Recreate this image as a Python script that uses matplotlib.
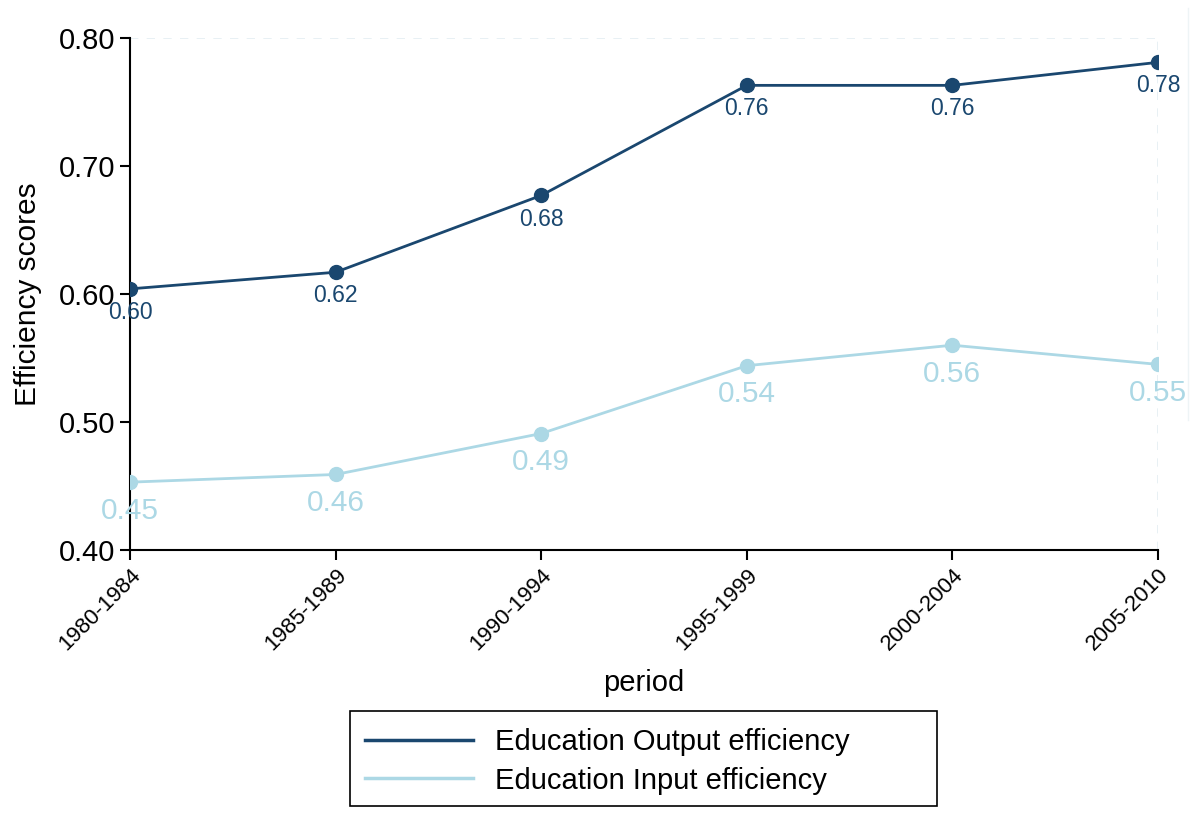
import matplotlib
matplotlib.use("Agg")
import matplotlib.pyplot as plt
from matplotlib.lines import Line2D
from matplotlib.patches import Rectangle

plt.rcParams['font.family'] = ['Liberation Sans', 'DejaVu Sans']

# data
periods = ["1980-1984", "1985-1989", "1990-1994", "1995-1999", "2000-2004", "2005-2010"]
output_eff = [0.604, 0.617, 0.677, 0.763, 0.763, 0.781]
input_eff = [0.453, 0.459, 0.491, 0.544, 0.560, 0.545]

navy = "#1a476f"
light = "#acd8e5"

W, H = 1196, 840
fig = plt.figure(figsize=(W / 100, H / 100), dpi=100)
ax = fig.add_axes([130 / W, 1 - 550 / H, 1028 / W, 512 / H])

x = list(range(len(periods)))

# faint grid (only the top y line and last x line show in the reference)
ax.axhline(0.80, color="#e4eef2", lw=1.2, ls=(0, (5, 5)), zorder=0)
ax.axvline(x[-1], color="#e4eef2", lw=1.2, ls=(0, (5, 5)), zorder=0)

ax.plot(x, output_eff, color=navy, lw=2, marker="o", ms=10, label="Education Output efficiency", zorder=3)
ax.plot(x, input_eff, color=light, lw=2, marker="o", ms=10, label="Education Input efficiency", zorder=3)

for xi, v in zip(x, output_eff):
    ax.annotate(f"{v:.2f}", (xi, v), xytext=(0, -17), textcoords="offset points",
                ha="center", va="center", fontsize=16.5, color=navy)
for xi, v in zip(x, input_eff):
    ax.annotate(f"{v:.2f}", (xi, v), xytext=(0, -20.5), textcoords="offset points",
                ha="center", va="center", fontsize=21.5, color=light)

ax.set_xlim(x[0], x[-1])
ax.set_ylim(0.40, 0.80)
yt = [0.40, 0.50, 0.60, 0.70, 0.80]
ax.set_yticks(yt)
ax.set_yticklabels([f"{t:.2f}" for t in yt], fontsize=21)
ax.set_xticks(x)
ax.set_xticklabels(periods, rotation=45, ha="right", rotation_mode="anchor", fontsize=16)
ax.tick_params(axis="both", direction="out", length=7, width=1.5, color="black")

for side in ["top", "right"]:
    ax.spines[side].set_visible(False)
for side in ["left", "bottom"]:
    ax.spines[side].set_linewidth(1.5)
    ax.spines[side].set_color("black")

ax.set_ylabel("Efficiency scores", fontsize=21.5, labelpad=12)
ax.set_xlabel("period", fontsize=21, labelpad=10)

# legend: box drawn separately to match the reference's wide frame
box_x0, box_y0, box_w, box_h = 350 / W, 1 - 806 / H, 587 / W, 95 / H
fig.add_artist(Rectangle((box_x0, box_y0), box_w, box_h, transform=fig.transFigure,
                         fill=False, edgecolor="black", lw=1.2))
leg = fig.legend(loc="center left", bbox_to_anchor=(365 / W, box_y0 + box_h / 2 - 3 / H), fontsize=21,
                 frameon=False, handlelength=3.7, handletextpad=0.75,
                 borderpad=0, labelspacing=0.35, borderaxespad=0)
for h in leg.legend_handles:
    h.set_marker("")
    h.set_linewidth(2.5)

# faint vertical line near the right edge of the reference image
fig.add_artist(Line2D([1188 / W, 1188 / W], [0.5, 0.99], transform=fig.transFigure,
                      color="#eef4f6", lw=1))

fig.savefig("out.png", dpi=100)
